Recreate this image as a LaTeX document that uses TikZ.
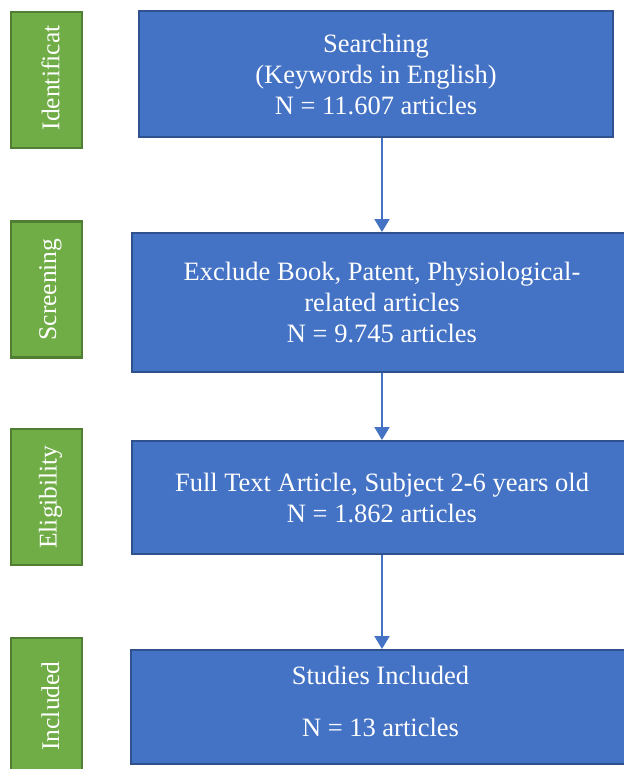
\documentclass[tikz,border=0pt]{standalone}
\usepackage{fontspec}
\setmainfont{Liberation Serif}
\usetikzlibrary{arrows.meta}
\definecolor{bfill}{HTML}{4472C4}
\definecolor{bdraw}{HTML}{2F528F}
\definecolor{gfill}{HTML}{70AD47}
\definecolor{gdraw}{HTML}{507E32}
\begin{document}
\begin{tikzpicture}[x=1pt,y=-1pt,
  stagebox/.style={draw=bdraw,fill=bfill,line width=2pt,text=white,
    font=\fontsize{26.5}{31}\selectfont,align=center,inner sep=0pt,
    anchor=north west},
  stagetext/.style={text=white,font=\fontsize{26.5}{31}\selectfont,
    align=center,inner sep=0pt},
  phasebox/.style={draw=gdraw,fill=gfill,line width=2.5pt,
    inner sep=0pt,rotate=90,minimum width=136pt,minimum height=71pt},
  phasetext/.style={text=white,font=\fontsize{25.5}{30}\selectfont,
    inner sep=0pt,rotate=90},
  conn/.style={draw=bfill,line width=2pt,-{Triangle[width=15pt,length=13pt]}}]
\useasboundingbox (0,0) rectangle (624,769);
\clip (0,0) rectangle (624,769);
\fill[white] (0,0) rectangle (624,769);

\node[phasebox] (p1) at (46.5,80) {};
\node[phasebox] (p2) at (46.5,289.5) {};
\node[phasebox] (p3) at (46.5,497) {};
\node[phasebox] (p4) at (46.5,706) {};
\node[phasetext] (l1) at (50.5,78) {Identificat};
\node[phasetext] (l2) at (50.5,289.5) {Screening};
\node[phasetext] (l3) at (50.5,497) {Eligibility};
\node[phasetext] (l4) at (50.5,706) {Included};

\node[stagebox,minimum width=474pt,minimum height=126pt] (b1) at (138,10)
  {Searching\\(Keywords in English)\\N = 11.607 articles};
\node[stagebox,minimum width=500pt,minimum height=139pt] (b2) at (131,232)
  {Exclude Book, Patent, Physiological-\\related articles\\N = 9.745 articles};
\node[stagebox,minimum width=500pt,minimum height=113pt] (b3) at (131,440)
  {Full Text Article, Subject 2-6 years old\\N = 1.862 articles};
\node[stagebox,minimum width=501pt,minimum height=114pt] (b4) at (130,649) {};
\node[stagetext] (t4) at (380.5,701.5) {Studies Included\\[21pt]N = 13 articles};

\draw[conn] (b1.south -| b2.north) -- (b2.north);
\draw[conn] (b2.south) -- (b3.north);
\draw[conn] (b3.south) -- (b3.south |- b4.north);
\end{tikzpicture}
\end{document}
